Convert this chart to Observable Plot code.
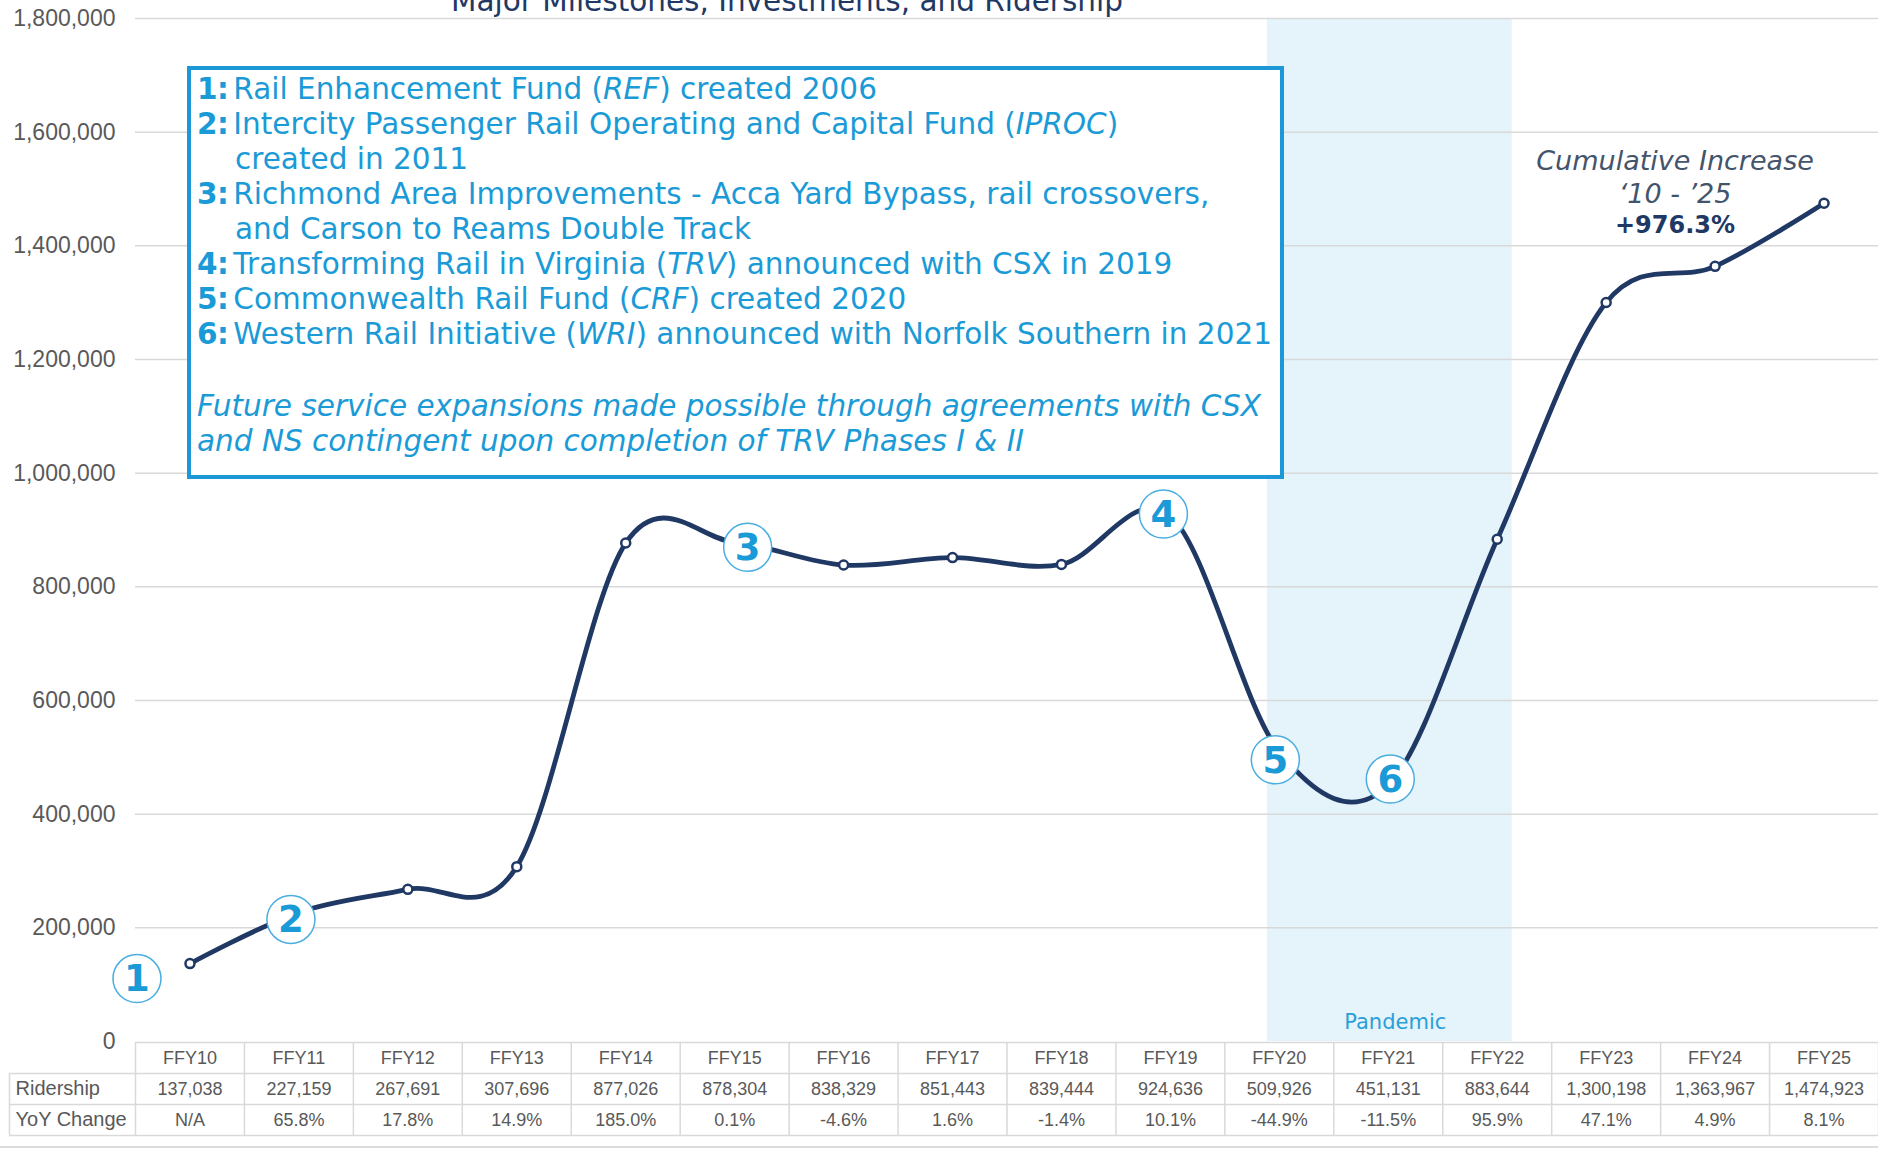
<!DOCTYPE html>
<html>
<head>
<meta charset="utf-8">
<script src="https://cdn.jsdelivr.net/npm/d3@7"></script>
<script src="https://cdn.jsdelivr.net/npm/@observablehq/plot@0.6"></script>
<style>
  body { margin: 0; background: #fff; }
  #wrap { position: relative; width: 1878px; height: 1150px; overflow: hidden; background: #fff; }
  #title { position: absolute; left: 0; width: 1574px; top: -16px; line-height: 34px; text-align: center;
           font-family: "DejaVu Sans"; font-size: 29.5px; color: #1f3864; white-space: nowrap; }
  #box { position: absolute; left: 187px; top: 66px; width: 1097px; height: 413px; box-sizing: border-box;
         border: 4px solid #1b98d5; background: #fff; padding: 2px 0 0 6px;
         font-family: "DejaVu Sans"; font-size: 29.5px; line-height: 35px; color: #1a9ad6; white-space: nowrap; }
  #box b { margin-right: 5px; letter-spacing: -0.5px; }
  #box .cont { padding-left: 38px; }
  #box .gap { height: 37px; }
  #box .foot { font-style: italic; }
  #bottomline { position: absolute; left: 0; top: 1146px; width: 1878px; height: 2px; background: #dcdcdc; }
  svg { display: block; }
</style>
</head>
<body>
<div id="wrap">
  <div id="chart"></div>
  <div id="table"></div>
  <div id="title"></div>
  <div id="box"></div>
  <div id="bottomline"></div>
</div>
<script>
// ---------------- data ----------------
const years = ["FFY10","FFY11","FFY12","FFY13","FFY14","FFY15","FFY16","FFY17","FFY18","FFY19","FFY20","FFY21","FFY22","FFY23","FFY24","FFY25"];
const ridership = [137038, 227159, 267691, 307696, 877026, 878304, 838329, 851443, 839444, 924636, 509926, 451131, 883644, 1300198, 1363967, 1474923];
const yoyChange = ["N/A","65.8%","17.8%","14.9%","185.0%","0.1%","-4.6%","1.6%","-1.4%","10.1%","-44.9%","-11.5%","95.9%","47.1%","4.9%","8.1%"];
const yTicks = [0, 200000, 400000, 600000, 800000, 1000000, 1200000, 1400000, 1600000, 1800000];
const milestoneNumbers = [1, 2, 3, 4, 5, 6];
const milestoneYears = ["FFY10", "FFY11", "FFY15", "FFY19", "FFY20", "FFY21"];
const pandemicFrom = "FFY20";
const pandemicTo = "FFY22";
const pandemicLabel = "Pandemic";
const rowLabels = ["Ridership", "YoY Change"];
const titleText = "Major Milestones, Investments, and Ridership";
const milestoneNotes = [
  "Rail Enhancement Fund (*REF*) created 2006",
  "Intercity Passenger Rail Operating and Capital Fund (*IPROC*)\ncreated in 2011",
  "Richmond Area Improvements - Acca Yard Bypass, rail crossovers,\nand Carson to Reams Double Track",
  "Transforming Rail in Virginia (*TRV*) announced with CSX in 2019",
  "Commonwealth Rail Fund (*CRF*) created 2020",
  "Western Rail Initiative (*WRI*) announced with Norfolk Southern in 2021"
];
const footNote = "Future service expansions made possible through agreements with CSX\nand NS contingent upon completion of TRV Phases I & II";
const cumulativeLabel = "Cumulative Increase\n\u201810 - \u201925";

// ---------------- derived ----------------
const data = years.map((y, i) => ({year: y, i, ridership: ridership[i], yoy: yoyChange[i]}));
const idx = (y) => years.indexOf(y);
const milestones = milestoneNumbers.map((n, k) => ({n, i: idx(milestoneYears[k]), ridership: ridership[idx(milestoneYears[k])]}));
const first = data[0], last = data[data.length - 1];
const cumulative = "+" + ((last.ridership / first.ridership - 1) * 100).toFixed(1) + "%";

// ---------------- layout ----------------
const W = 1878, left = 135, labelLeft = 9;
const colW = (W - left) / years.length;
const xDomain = [-0.5, years.length - 0.5];
const xLabel = -0.5 - (left - labelLeft) / colW;
// pixel nudges of the numbered badges away from their points
const badgeNudge = {1: [-53, 15], 2: [-8, 7], 3: [13, 5], 4: [-7, -2], 5: [-4, 8], 6: [2, -6]};

const navy = "#203864", blue = "#1a9ad6", grid = "#d9d9d9", grey = "#595959";
const FONT = "DejaVu Sans";
const NUMFONT = "Liberation Sans";

const badgeMarks = milestones.flatMap(m => {
  const [dx, dy] = badgeNudge[m.n];
  return [
    Plot.dot([m], {x: "i", y: "ridership", r: 24, dx, dy, fill: "white", stroke: "#4aaee0", strokeWidth: 1.5}),
    Plot.text([m], {x: "i", y: "ridership", text: d => String(d.n), dx, dy: dy + 1, fontSize: 37, fontWeight: "bold", fontFamily: FONT, fill: blue})
  ];
});

// ---------------- chart ----------------
const chart = Plot.plot({
  width: W, height: 1041,
  marginLeft: left, marginRight: 0, marginTop: 18, marginBottom: 0,
  x: {domain: xDomain, axis: null},
  y: {domain: [yTicks[0], yTicks[yTicks.length - 1]], axis: null},
  style: {overflow: "visible", background: "transparent", color: grey, fontFamily: NUMFONT},
  marks: [
    Plot.rect([{from: idx(pandemicFrom), to: idx(pandemicTo)}], {x1: "from", x2: "to", insetLeft: -12, insetRight: -15, fill: "#e5f3fa"}),
    Plot.gridY(yTicks.filter(d => d > 0), {stroke: grid, strokeOpacity: 1, strokeWidth: 1.5}),
    Plot.axisY(yTicks, {label: null, tickSize: 0, tickPadding: 20, tickFormat: d3.format(","), fontSize: 23, fontFamily: NUMFONT, fill: grey}),
    Plot.text([{i: (idx(pandemicFrom) + idx(pandemicTo)) / 2}], {x: "i", text: () => pandemicLabel, frameAnchor: "bottom", dx: 7, dy: -13, fontSize: 21, fontFamily: FONT, fill: "#2a9fd8"}),
    Plot.line(data, {x: "i", y: "ridership", curve: "cardinal", stroke: navy, strokeWidth: 4.8, strokeLinecap: "round"}),
    Plot.dot(data, {x: "i", y: "ridership", r: 4.5, fill: "white", stroke: navy, strokeWidth: 2.5}),
    ...badgeMarks,
    Plot.text([last], {x: "i", y: "ridership", text: () => cumulativeLabel, dx: -149, dy: -27, lineHeight: 1.22, fontSize: 27, fontStyle: "italic", fontFamily: FONT, fill: "#44546a"}),
    Plot.text([last], {x: "i", y: "ridership", text: () => cumulative, dx: -149, dy: 22, fontSize: 24, fontWeight: "bold", fontFamily: FONT, fill: navy})
  ]
});
document.getElementById("chart").appendChild(chart);

// ---------------- table ----------------
const hLines = [0, 1, 2, 3].map(r => ({y: r, x1: r === 0 ? -0.5 : xLabel, x2: years.length - 0.5}));
const vLines = d3.range(years.length + 1).map(k => ({x: k - 0.5, y1: 0, y2: 3})).concat([{x: xLabel, y1: 1, y2: 3}]);
const table = Plot.plot({
  width: W, height: 109,
  marginLeft: labelLeft, marginRight: 0, marginTop: 1, marginBottom: 15,
  x: {domain: [xLabel, years.length - 0.5], axis: null},
  y: {domain: [0, 3], reverse: true, axis: null},
  style: {overflow: "visible", background: "transparent", color: grey, fontFamily: NUMFONT},
  marks: [
    Plot.ruleY(hLines, {y: "y", x1: "x1", x2: "x2", stroke: grid, strokeWidth: 1.5}),
    Plot.ruleX(vLines, {x: "x", y1: "y1", y2: "y2", stroke: grid, strokeWidth: 1.5}),
    Plot.text(data, {x: "i", y: () => 0.5, text: "year", fontSize: 18, fill: grey}),
    Plot.text(data, {x: "i", y: () => 1.5, text: d => d3.format(",")(d.ridership), fontSize: 18, fill: grey}),
    Plot.text(data, {x: "i", y: () => 2.5, text: "yoy", fontSize: 18, fill: grey}),
    Plot.text(rowLabels, {x: () => xLabel, y: (d, k) => 1.5 + k, text: d => d, textAnchor: "start", dx: 6, fontSize: 20, fill: grey})
  ]
});
document.getElementById("table").appendChild(table);

// ---------------- title & milestone box ----------------
document.getElementById("title").textContent = titleText;
const esc = s => s.replace(/&/g, "&amp;").replace(/</g, "&lt;");
const fmt = s => esc(s).replace(/\*([^*]+)\*/g, "<i>$1</i>");
const box = document.getElementById("box");
let html = "";
milestoneNotes.forEach((note, k) => {
  const lines = note.split("\n");
  html += `<div><b>${milestoneNumbers[k]}:</b>${fmt(lines[0])}</div>`;
  lines.slice(1).forEach(l => { html += `<div class="cont">${fmt(l)}</div>`; });
});
html += `<div class="gap"></div>`;
footNote.split("\n").forEach(l => { html += `<div class="foot">${fmt(l)}</div>`; });
box.innerHTML = html;
</script>
</body>
</html>
